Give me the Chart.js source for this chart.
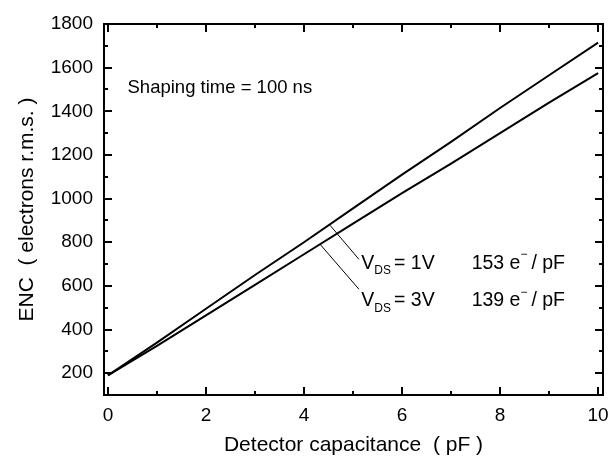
<!DOCTYPE html>
<html>
<head>
<meta charset="utf-8">
<script src="https://cdn.jsdelivr.net/npm/chart.js@4/dist/chart.umd.min.js"></script>
<style>
  html, body { margin: 0; padding: 0; background: #fff; }
  #wrap { width: 613px; height: 459px; }
</style>
</head>
<body>
<div id="wrap"><canvas id="encChart" width="613" height="459"></canvas></div>
<script>
// capacitance in pF
const capacitance = [0, 1, 2, 3, 4, 5, 6, 7, 8, 9, 10];
// ENC in electrons r.m.s.
const enc1V = [190, 340, 495, 650, 800, 955, 1110, 1260, 1415, 1565, 1715];
const enc3V = [190, 325, 465, 605, 745, 885, 1025, 1160, 1300, 1440, 1575];

const xTicks = [0, 2, 4, 6, 8, 10];
const xMinor = [1, 3, 5, 7, 9];
const yTicks = [200, 400, 600, 800, 1000, 1200, 1400, 1600, 1800];
const yMinor = [100, 300, 500, 700, 900, 1100, 1300, 1500, 1700];

const FONT = "'Liberation Sans', Arial, sans-serif";

// frame + inward ticks on all four sides
const framePlugin = {
  id: 'frame',
  afterDraw(chart) {
    const { ctx, chartArea: a, scales: { x, y } } = chart;
    ctx.save();
    ctx.strokeStyle = '#000';
    ctx.lineWidth = 2;
    ctx.strokeRect(a.left, a.top, a.right - a.left, a.bottom - a.top);
    ctx.beginPath();
    const tx = (v, len) => {
      const p = Math.round(x.getPixelForValue(v));
      ctx.moveTo(p, a.bottom); ctx.lineTo(p, a.bottom - len);
      ctx.moveTo(p, a.top); ctx.lineTo(p, a.top + len);
    };
    const ty = (v, len) => {
      const p = Math.round(y.getPixelForValue(v));
      ctx.moveTo(a.left, p); ctx.lineTo(a.left + len, p);
      ctx.moveTo(a.right, p); ctx.lineTo(a.right - len, p);
    };
    xTicks.forEach(v => tx(v, 8));
    xMinor.forEach(v => tx(v, 4));
    yTicks.forEach(v => ty(v, 8));
    yMinor.forEach(v => ty(v, 4));
    ctx.stroke();
    ctx.restore();
  }
};

// text notes and leader lines, anchored in data coordinates
const notesPlugin = {
  id: 'notes',
  afterDraw(chart) {
    const { ctx, scales: { x, y } } = chart;
    const px = v => x.getPixelForValue(v);
    const py = v => y.getPixelForValue(v);
    ctx.save();
    ctx.fillStyle = '#000';
    ctx.textBaseline = 'middle';
    ctx.font = '18.5px ' + FONT;
    ctx.fillText('Shaping time = 100 ns', px(0.4), py(1506));

    // leader lines
    ctx.strokeStyle = '#000';
    ctx.lineWidth = 1;
    ctx.beginPath();
    ctx.moveTo(px(4.53), py(878)); ctx.lineTo(px(5.12), py(722));
    ctx.moveTo(px(4.33), py(790)); ctx.lineTo(px(5.12), py(585));
    ctx.stroke();

    const row = (yv, volts, slope) => {
      let cx = px(5.17);
      const cy = py(yv);
      ctx.font = '19.5px ' + FONT;
      ctx.fillText('V', cx, cy);
      cx += ctx.measureText('V').width;
      ctx.font = '12px ' + FONT;
      ctx.fillText('DS', cx, cy + 8);
      cx += ctx.measureText('DS').width + 3;
      ctx.font = '19.5px ' + FONT;
      ctx.fillText('= ' + volts, cx, cy);
      let sx = px(7.42);
      ctx.fillText(slope + ' e', sx, cy);
      sx += ctx.measureText(slope + ' e').width;
      ctx.font = '12px ' + FONT;
      ctx.fillText('\u2212', sx, cy - 8);
      sx += ctx.measureText('\u2212').width + 4;
      ctx.font = '19.5px ' + FONT;
      ctx.fillText('/ pF', sx, cy);
    };
    row(704, '1V', '153');
    row(534, '3V', '139');
    ctx.restore();
  }
};

new Chart(document.getElementById('encChart'), {
  type: 'line',
  data: {
    datasets: [
      {
        label: 'VDS = 1V',
        data: capacitance.map((c, i) => ({ x: c, y: enc1V[i] })),
        borderColor: '#000',
        borderWidth: 2,
        pointRadius: 0,
        fill: false,
        tension: 0
      },
      {
        label: 'VDS = 3V',
        data: capacitance.map((c, i) => ({ x: c, y: enc3V[i] })),
        borderColor: '#000',
        borderWidth: 2,
        pointRadius: 0,
        fill: false,
        tension: 0
      }
    ]
  },
  options: {
    responsive: false,
    animation: false,
    devicePixelRatio: 1,
    layout: { padding: { top: 24, right: 10, left: 0, bottom: 0 } },
    plugins: { legend: { display: false }, tooltip: { enabled: false } },
    scales: {
      x: {
        type: 'linear',
        min: -0.08,
        max: 10.1,
        afterBuildTicks: s => { s.ticks = xTicks.map(v => ({ value: v })); },
        afterFit: s => { s.height = 64; s.paddingLeft = 0; s.paddingRight = 0; },
        grid: { display: false, drawTicks: false },
        border: { display: false },
        ticks: { color: '#000', padding: 9, font: { family: FONT, size: 19 }, maxRotation: 0, callback: v => String(v) },
        title: {
          display: true,
          text: 'Detector capacitance  ( pF )',
          color: '#000',
          font: { family: FONT, size: 21 },
          padding: { top: 4, bottom: 1 }
        }
      },
      y: {
        type: 'linear',
        min: 100,
        max: 1800,
        afterBuildTicks: s => { s.ticks = yTicks.map(v => ({ value: v })); },
        afterFit: s => { s.width = 104; s.paddingTop = 0; s.paddingBottom = 0; },
        grid: { display: false, drawTicks: false },
        border: { display: false },
        ticks: { color: '#000', padding: 11, font: { family: FONT, size: 19 }, callback: v => String(v) },
        title: {
          display: true,
          text: 'ENC  ( electrons r.m.s. )',
          color: '#000',
          font: { family: FONT, size: 21 },
          padding: { top: 15, bottom: 0 }
        }
      }
    }
  },
  plugins: [framePlugin, notesPlugin]
});
</script>
</body>
</html>
